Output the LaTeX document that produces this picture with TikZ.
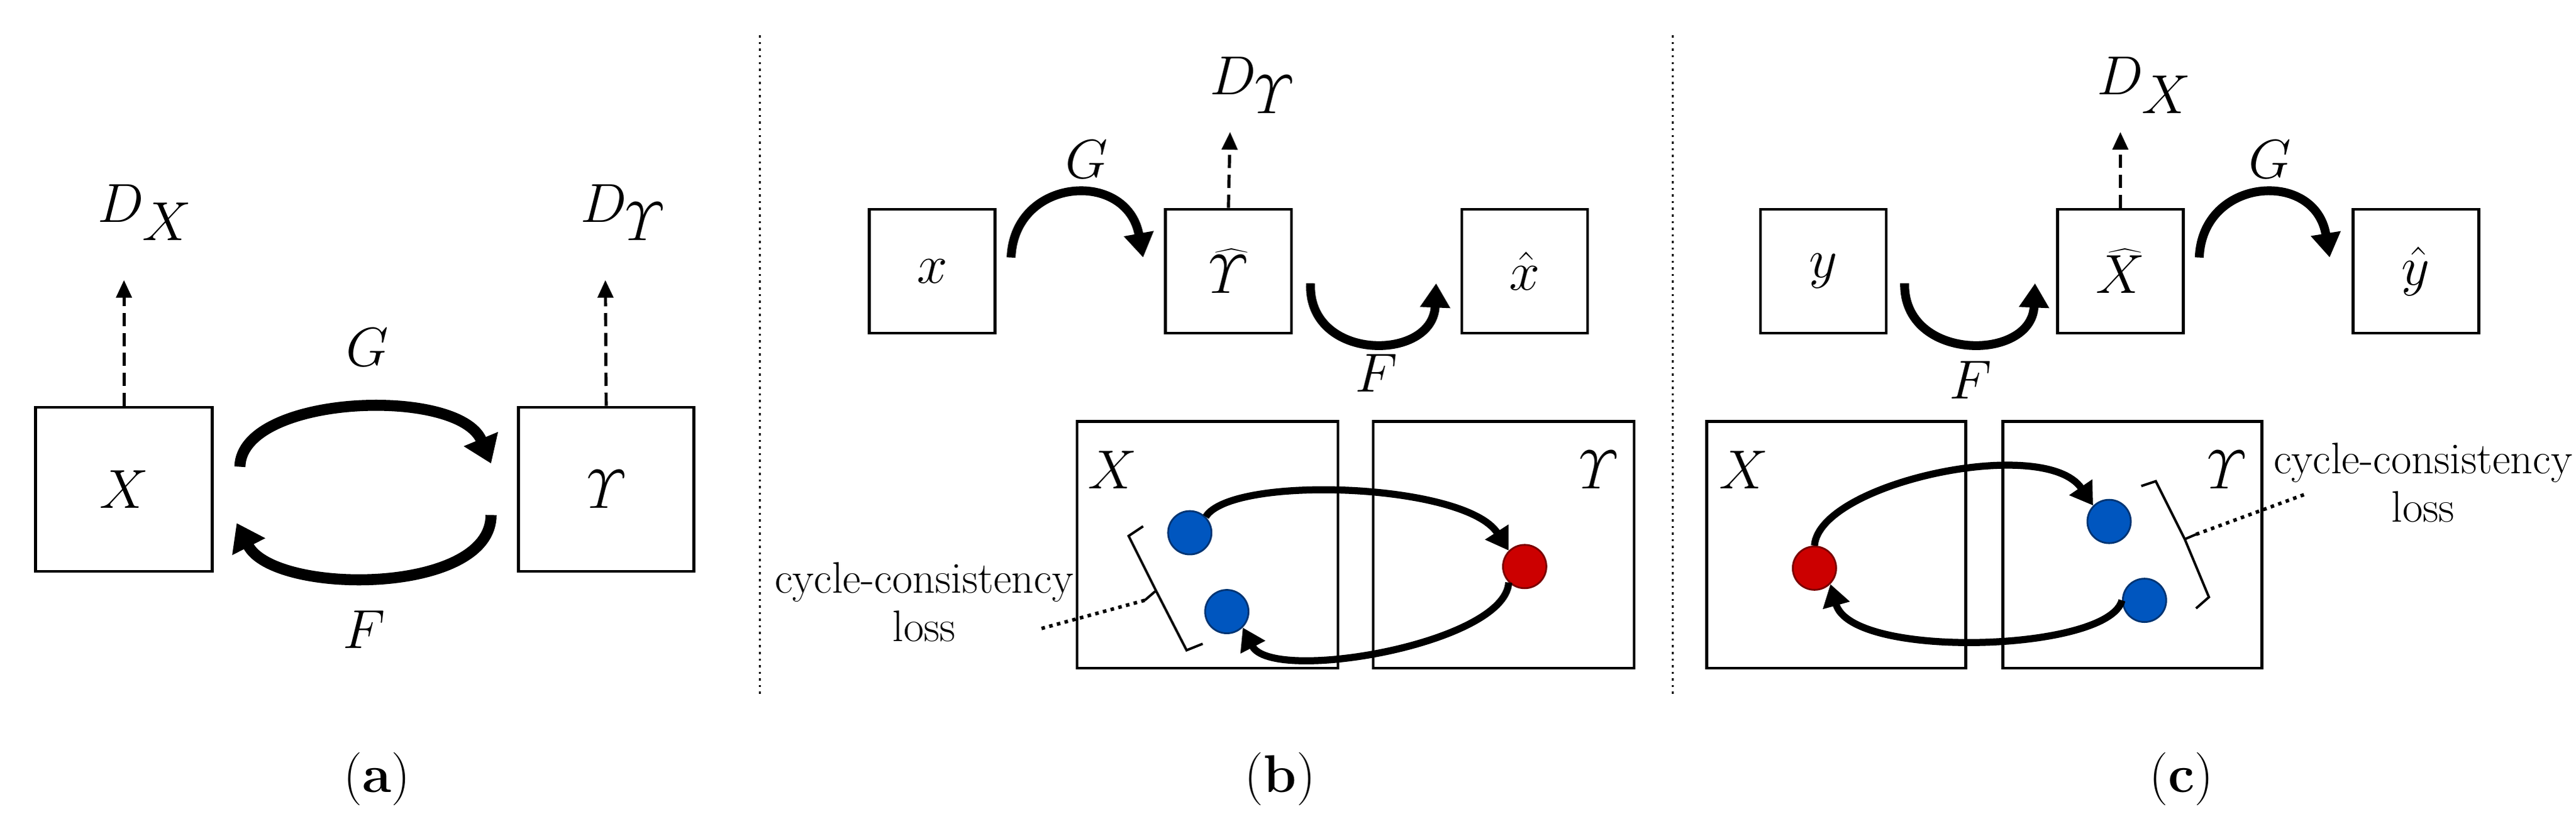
\documentclass[tikz,border=0pt]{standalone}
\usetikzlibrary{arrows.meta}
\newcommand{\Ups}{\mathnormal{\Upsilon}}
\begin{document}
\begin{tikzpicture}[x=0.0256cm,y=-0.0256cm,
 box/.style={draw,line width=1.3pt,inner sep=0pt},
 big/.style={font=\fontsize{48}{52}\selectfont},
 sml/.style={font=\fontsize{35}{38}\selectfont},
 lbl/.style={font=\fontsize{24}{28}\selectfont},
 txt/.style={font=\fontsize{20}{22}\selectfont,align=center},
 curv/.style={line width=5pt,-{Triangle[length=12pt,width=16pt]}},
 curvb/.style={line width=4pt,-{Triangle[length=11pt,width=13pt]}},
 thin/.style={line width=3.2pt,-{Triangle[length=10pt,width=12pt]}},
 disc/.style={-{Triangle[length=8pt,width=7pt]},line width=1.4pt,dash pattern=on 6pt off 3pt},
 dot/.style={circle,draw=#1!60!black,fill=#1,minimum size=0.69cm,inner sep=0pt,line width=0.8pt},
 sep/.style={dotted,line width=1pt}]
\colorlet{dblue}{blue!55!cyan!75!black}
\useasboundingbox (0,0) rectangle (1600,508.6);
% (a)
\node[box,minimum width=2.81cm,minimum height=2.61cm,big] (X) at (77,304) {$X$};
\node[box,minimum width=2.79cm,minimum height=2.61cm,big] (Y) at (376.5,304) {$\Ups$};
\node[big] (DX) at (90,132) {$D_{X}$};
\node[big] (DY) at (387,132) {$D_{\Ups}$};
\coordinate (dxe) at (77,174); \coordinate (dye) at (376,174);
\draw[disc] (X.north) -- (dxe);
\draw[disc] (Y.north) -- (dye);
\coordinate (g1) at (149,290); \coordinate (g2) at (305,288);
\coordinate (f1) at (305,320); \coordinate (f2) at (147,325);
\draw[curv] (g1) .. controls (150,245) and (285,240) .. (g2);
\draw[curv] (f1) .. controls (305,370) and (170,370) .. (f2);
\node[big] (G) at (228,216) {$G$};
\node[big] (F) at (226,391) {$F$};
\node[lbl] (la) at (234,484) {(\textbf{a})};
\coordinate (s1a) at (472,22); \coordinate (s1b) at (472,432);
\draw[sep] (s1a) -- (s1b);
\coordinate (s2a) at (1039,22); \coordinate (s2b) at (1039,432);
\draw[sep] (s2a) -- (s2b);
% (b)
\node[box,minimum width=2.0cm,minimum height=1.97cm,sml] (bx) at (579,168.5) {$x$};
\node[box,minimum width=2.0cm,minimum height=1.97cm,sml] (bY) at (763,168.5) {$\widehat{\Ups}$};
\node[box,minimum width=2.0cm,minimum height=1.97cm,sml] (bxh) at (947,168.5) {$\hat{x}$};
\node[sml] (bD) at (778,53) {$D_{\Ups}$};
\coordinate (bde) at (764,82);
\draw[disc] (bY.north) -- (bde);
\coordinate (ba1) at (628,160); \coordinate (ba2) at (710,160);
\draw[curvb] (ba1) .. controls (630,110) and (700,105) .. (ba2);
\coordinate (bb1) at (814,176); \coordinate (bb2) at (892,176);
\draw[curvb] (bb1) .. controls (812,225) and (890,225) .. (bb2);
\node[sml] (bG) at (675,99) {$G$};
\node[sml] (bF) at (855,232) {$F$};
\node[box,minimum width=4.15cm,minimum height=3.92cm] (bX) at (750,338.5) {};
\node[box,minimum width=4.15cm,minimum height=3.92cm] (bYY) at (934,338.5) {};
\node[sml] at (691,292) {$X$};
\node[sml] at (993,292) {$\Ups$};
\node[dot=dblue] (b1) at (739,331) {};
\node[dot=dblue] (b2) at (762,380) {};
\node[dot=red!80!black] (r1) at (947,352) {};
\draw[thin] (b1.north east) .. controls (765,295) and (910,300) .. (r1.north west);
\draw[thin] (r1.south west) .. controls (935,400) and (790,425) .. (b2.south east);
\coordinate (bk1) at (710,327); \coordinate (bk2) at (701,333); \coordinate (bkm) at (718,367);
\coordinate (bko) at (711,373); \coordinate (bk3) at (737,404); \coordinate (bk4) at (747,400);
\draw[line width=1.1pt] (bk1) -- (bk2) -- (bkm) -- (bk3) -- (bk4);
\draw[line width=1.1pt] (bkm) -- (bko);
\node[txt] (bt) at (574,374) {cycle-consistency\\loss};
\coordinate (bte) at (645,391);
\draw[dotted,line width=1.6pt] (bko) -- (bte);
\node[lbl] (lb) at (795,484) {(\textbf{b})};
% (c)
\node[box,minimum width=2.0cm,minimum height=1.97cm,sml] (cy) at (1132.5,168.5) {$y$};
\node[box,minimum width=2.0cm,minimum height=1.97cm,sml] (cX) at (1317,168.5) {$\widehat{X}$};
\node[box,minimum width=2.0cm,minimum height=1.97cm,sml] (cyh) at (1500.5,168.5) {$\hat{y}$};
\node[sml] (cD) at (1332,53) {$D_{X}$};
\coordinate (cde) at (1317,82);
\draw[disc] (cX.north) -- (cde);
\coordinate (ca1) at (1183,176); \coordinate (ca2) at (1264,176);
\draw[curvb] (ca1) .. controls (1182,225) and (1262,225) .. (ca2);
\coordinate (cb1) at (1366,160); \coordinate (cb2) at (1447,160);
\draw[curvb] (cb1) .. controls (1368,110) and (1438,105) .. (cb2);
\node[sml] (cF) at (1224,236) {$F$};
\node[sml] (cG) at (1410,99) {$G$};
\node[box,minimum width=4.12cm,minimum height=3.92cm] (cXX) at (1140.5,338.5) {};
\node[box,minimum width=4.12cm,minimum height=3.92cm] (cYY) at (1324.5,338.5) {};
\node[sml] at (1083,292) {$X$};
\node[sml] at (1383,292) {$\Ups$};
\node[dot=red!80!black] (cr) at (1127,353) {};
\node[dot=dblue] (c1) at (1310,324) {};
\node[dot=dblue] (c2) at (1332,373) {};
\draw[thin] (cr.north) .. controls (1130,300) and (1270,270) .. (c1.north west);
\draw[thin] (c2.west) .. controls (1310,405) and (1150,410) .. (cr.south east);
\coordinate (ck1) at (1330,302); \coordinate (ck2) at (1339,299); \coordinate (ckm) at (1357,335);
\coordinate (cko) at (1364,332); \coordinate (ck3) at (1372,371); \coordinate (ck4) at (1364,378);
\draw[line width=1.1pt] (ck1) -- (ck2) -- (ckm) -- (ck3) -- (ck4);
\draw[line width=1.1pt] (ckm) -- (cko);
\node[txt] (ct) at (1505,300) {cycle-consistency\\loss};
\coordinate (cte) at (1432,307);
\draw[dotted,line width=1.6pt] (cko) -- (cte);
\node[lbl] (lc) at (1355,484) {(\textbf{c})};
\end{tikzpicture}
\end{document}
